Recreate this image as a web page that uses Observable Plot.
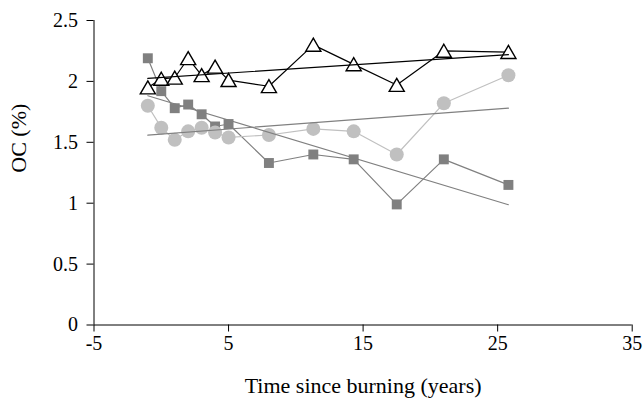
<!DOCTYPE html>
<html>
<head>
<meta charset="utf-8">
<script src="https://cdn.jsdelivr.net/npm/d3@7"></script>
<script src="https://cdn.jsdelivr.net/npm/@observablehq/plot@0.6"></script>
<style>
  html, body { margin: 0; padding: 0; background: #fff; }
  #chart { width: 643px; height: 412px; }
  #chart svg text { font-family: 'Liberation Serif', 'Times New Roman', serif; }
</style>
</head>
<body>
<div id="chart"></div>
<script>
// Time since burning (years)
const years = [-1, 0, 1, 2, 3, 4, 5, 8, 11.3, 14.3, 17.5, 21, 25.8];
// OC (%) for the three series
const triangleOC = [1.95, 2.02, 2.03, 2.19, 2.05, 2.12, 2.01, 1.96, 2.30, 2.14, 1.97, 2.25, 2.24];
const squareOC   = [2.19, 1.92, 1.78, 1.81, 1.73, 1.63, 1.65, 1.33, 1.40, 1.36, 0.99, 1.36, 1.15];
const circleOC   = [1.80, 1.62, 1.52, 1.59, 1.62, 1.58, 1.54, 1.56, 1.61, 1.59, 1.40, 1.82, 2.05];

const xTicks = [-5, 5, 15, 25, 35];
const yTicks = [0, 0.5, 1, 1.5, 2, 2.5];
const xTitle = "Time since burning (years)";
const yTitle = "OC (%)";

const toRows = vals => years.map((x, i) => ({x, y: vals[i]}));
const tri = toRows(triangleOC);
const sq = toRows(squareOC);
const circ = toRows(circleOC);

const font = "'Liberation Serif', 'Times New Roman', serif";

const chart = Plot.plot({
  width: 643,
  height: 412,
  marginLeft: 93.5,
  marginRight: 11.3,
  marginTop: 20,
  marginBottom: 87.5,
  style: {fontFamily: font, fontSize: "20px", background: "#fff", color: "#000"},
  x: {domain: [-5, 35], label: null},
  y: {domain: [0, 2.5], label: null},
  marks: [
    Plot.axisX({ticks: xTicks, tickSize: 7, tickPadding: 4, fontSize: 20,
      tickFormat: d => (d < 0 ? "-" + Math.abs(d) : String(d)), label: null, stroke: "#000", fill: "#000"}),
    Plot.axisY({ticks: yTicks, tickSize: 7, tickPadding: 9, fontSize: 20,
      tickFormat: d => String(d), label: null, stroke: "#000", fill: "#000"}),
    Plot.ruleX([-5], {stroke: "#000", strokeWidth: 1}),
    Plot.ruleY([0], {stroke: "#000", strokeWidth: 1}),
    // squares
    Plot.line(sq, {x: "x", y: "y", stroke: "#808080", strokeWidth: 1.2}),
    Plot.dot(sq, {x: "x", y: "y", symbol: "square", r: 5.6, fill: "#808080", stroke: "none"}),
    // circles
    Plot.line(circ, {x: "x", y: "y", stroke: "#c0c0c0", strokeWidth: 1.2}),
    Plot.dot(circ, {x: "x", y: "y", symbol: "circle", r: 7, fill: "#c0c0c0", stroke: "none"}),
    // triangles
    Plot.line(tri, {x: "x", y: "y", stroke: "#000", strokeWidth: 1.2}),
    Plot.dot(tri, {x: "x", y: "y", symbol: "triangle", r: 5.6, dy: 2, fill: "#fff", stroke: "#000", strokeWidth: 1.4}),
    // linear trend lines
    Plot.linearRegressionY(sq, {x: "x", y: "y", stroke: "#808080", strokeWidth: 1.2, ci: 0}),
    Plot.linearRegressionY(circ, {x: "x", y: "y", stroke: "#808080", strokeWidth: 1.2, ci: 0}),
    Plot.linearRegressionY(tri, {x: "x", y: "y", stroke: "#000", strokeWidth: 1.2, ci: 0}),
    // axis titles
    Plot.text([xTitle], {frameAnchor: "bottom", dy: 61, lineAnchor: "middle", fontSize: 22, fill: "#000"}),
    Plot.text([yTitle], {frameAnchor: "left", dx: -75, rotate: -90, lineAnchor: "middle", fontSize: 22, fill: "#000"})
  ]
});
document.getElementById("chart").appendChild(chart);
</script>
</body>
</html>
